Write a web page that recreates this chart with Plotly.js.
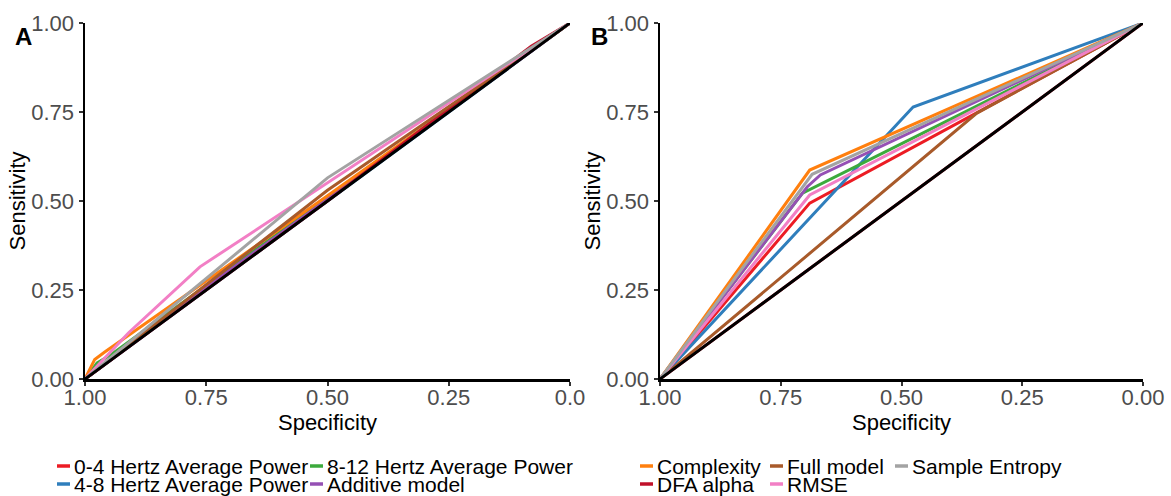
<!DOCTYPE html>
<html>
<head>
<meta charset="utf-8">
<script src="https://cdn.plot.ly/plotly-3.0.1.min.js"></script>
<style>html,body{margin:0;padding:0;background:#fff;}#chart{width:1171px;height:496px;}</style>
</head>
<body>
<div id="chart"></div>
<script>
// ---- Data (specificity, sensitivity) ----
const seriesNames = ["0-4 Hertz Average Power","4-8 Hertz Average Power","8-12 Hertz Average Power","Additive model","Complexity","DFA alpha","Full model","RMSE","Sample Entropy"];
const seriesColors = ["#EC1C24","#2F7EBC","#3CAA3C","#9550B4","#FF7F0E","#C0102A","#A85A2A","#F27FC5","#A3A3A3"];

// Panel A
const specA_hz04 = [1, 0.70, 0];            const sensA_hz04 = [0, 0.305, 1];
const specA_hz48 = [1, 0];                  const sensA_hz48 = [0, 1];
const specA_hz812 = [1, 0.975, 0.95, 0.5, 0]; const sensA_hz812 = [0, 0.045, 0.065, 0.51, 1];
const specA_add = [1, 0.75, 0.5, 0];        const sensA_add = [0, 0.258, 0.505, 1];
const specA_cpx = [1, 0.98, 0.96, 0.5, 0];  const sensA_cpx = [0, 0.055, 0.075, 0.515, 1];
const specA_dfa = [1, 0.5, 0.08, 0];        const sensA_dfa = [0, 0.5, 0.935, 1];
const specA_full = [1, 0.5, 0];             const sensA_full = [0, 0.53, 1];
const specA_rmse = [1, 0.91, 0.763, 0];     const sensA_rmse = [0, 0.13, 0.315, 1];
const specA_se = [1, 0.5, 0];               const sensA_se = [0, 0.565, 1];

// Panel B
const specB_hz04 = [1, 0.69, 0];            const sensB_hz04 = [0, 0.494, 1];
const specB_hz48 = [1, 0.476, 0];           const sensB_hz48 = [0, 0.764, 1];
const specB_hz812 = [1, 0.705, 0];          const sensB_hz812 = [0, 0.522, 1];
const specB_add = [1, 0.695, 0.668, 0];     const sensB_add = [0, 0.54, 0.573, 1];
const specB_cpx = [1, 0.69, 0];             const sensB_cpx = [0, 0.587, 1];
const specB_dfa = [1, 0];                   const sensB_dfa = [0, 1];
const specB_full = [1, 0.344, 0];           const sensB_full = [0, 0.747, 1];
const specB_rmse = [1, 0.69, 0];            const sensB_rmse = [0, 0.517, 1];
const specB_se = [1, 0.685, 0];             const sensB_se = [0, 0.575, 1];

// Chance diagonal
const specDiag = [1, 0];  const sensDiag = [0, 1];

const tickVals = [1, 0.75, 0.5, 0.25, 0];
const tickTextX_A = ["1.00","0.75","0.50","0.25","0.0"];
const tickText = ["1.00","0.75","0.50","0.25","0.00"];

// Legend grid (ggplot style: 2 rows, filled by column)
const legendCol = [0, 0, 1, 1, 2, 2, 3, 3, 4];
const legendRow = [0, 1, 0, 1, 0, 1, 0, 1, 0];

// ---- Build ----
const panelA = [[specA_hz04,sensA_hz04],[specA_hz48,sensA_hz48],[specA_hz812,sensA_hz812],[specA_add,sensA_add],[specA_cpx,sensA_cpx],[specA_dfa,sensA_dfa],[specA_full,sensA_full],[specA_rmse,sensA_rmse],[specA_se,sensA_se]];
const panelB = [[specB_hz04,sensB_hz04],[specB_hz48,sensB_hz48],[specB_hz812,sensB_hz812],[specB_add,sensB_add],[specB_cpx,sensB_cpx],[specB_dfa,sensB_dfa],[specB_full,sensB_full],[specB_rmse,sensB_rmse],[specB_se,sensB_se]];

const W = 1171, H = 496;
const px = v => v / W, py = v => 1 - v / H;

const traces = [];
[['x','y',panelA],['x2','y2',panelB]].forEach(([xa, ya, panel]) => {
  panel.forEach((d, i) => traces.push({
    x: d[0], y: d[1], type: 'scatter', mode: 'lines', name: seriesNames[i],
    line: {color: seriesColors[i], width: 3}, xaxis: xa, yaxis: ya, showlegend: false
  }));
  traces.push({x: specDiag, y: sensDiag, type: 'scatter', mode: 'lines', name: 'Reference',
    line: {color: '#000', width: 3}, xaxis: xa, yaxis: ya, showlegend: false, hoverinfo: 'skip'});
});

const FONT = 'Liberation Sans, Arial, sans-serif';
const axisBase = {
  range: [1, 0], autorange: false, showgrid: false, zeroline: false,
  showline: true, linecolor: '#000', linewidth: 2.5,
  ticks: 'outside', ticklen: 4, tickwidth: 2, tickcolor: '#333', ticklabelstandoff: -7,
  tickvals: tickVals, tickfont: {family: FONT, size: 22, color: '#4D4D4D'},
  title: {text: 'Specificity', font: {family: FONT, size: 22, color: '#000'}, standoff: 0}
};
const yBase = {
  range: [0, 1], autorange: false, showgrid: false, zeroline: false,
  showline: true, linecolor: '#000', linewidth: 2.5,
  ticks: 'outside', ticklen: 4, tickwidth: 2, tickcolor: '#333',
  tickvals: tickVals, ticktext: tickText, tickfont: {family: FONT, size: 22, color: '#4D4D4D'},
  title: {text: 'Sensitivity', font: {family: FONT, size: 22, color: '#000'}, standoff: 0}
};

// legend keys and labels
const colTextX = [72, 325, 655, 785, 910];
const rowY = [466, 484];
const shapes = [], annotations = [];
seriesNames.forEach((n, i) => {
  const tx = colTextX[legendCol[i]], ty = rowY[legendRow[i]];
  shapes.push({type: 'line', xref: 'paper', yref: 'paper', x0: px(tx - 15), x1: px(tx - 2), y0: py(ty), y1: py(ty),
               line: {color: seriesColors[i], width: 3.5}});
  annotations.push({text: n, xref: 'paper', yref: 'paper', x: px(tx), y: py(ty), xanchor: 'left', yanchor: 'middle',
                    showarrow: false, font: {family: FONT, size: 21, color: '#000'}});
});
annotations.push({text: '<b>A</b>', xref: 'paper', yref: 'paper', x: px(23), y: py(36), xanchor: 'center', yanchor: 'middle', showarrow: false, font: {family: FONT, size: 24, color: '#000'}});
annotations.push({text: '<b>B</b>', xref: 'paper', yref: 'paper', x: px(599), y: py(36), xanchor: 'center', yanchor: 'middle', showarrow: false, font: {family: FONT, size: 24, color: '#000'}});

const yDom = [py(379), py(23)];
const layout = {
  width: W, height: H,
  margin: {l: 0, r: 0, t: 0, b: 0, autoexpand: false},
  paper_bgcolor: '#fff', plot_bgcolor: '#fff',
  font: {family: FONT, color: '#000'},
  showlegend: false,
  xaxis: Object.assign({}, axisBase, {domain: [px(85), px(570)], anchor: 'y', ticktext: tickTextX_A}),
  yaxis: Object.assign({}, yBase, {domain: yDom, anchor: 'x'}),
  xaxis2: Object.assign({}, axisBase, {domain: [px(660), px(1143)], anchor: 'y2', ticktext: tickText}),
  yaxis2: Object.assign({}, yBase, {domain: yDom, anchor: 'x2'}),
  shapes: shapes,
  annotations: annotations
};

Plotly.newPlot('chart', traces, layout, {displayModeBar: false, staticPlot: true});
</script>
</body>
</html>
